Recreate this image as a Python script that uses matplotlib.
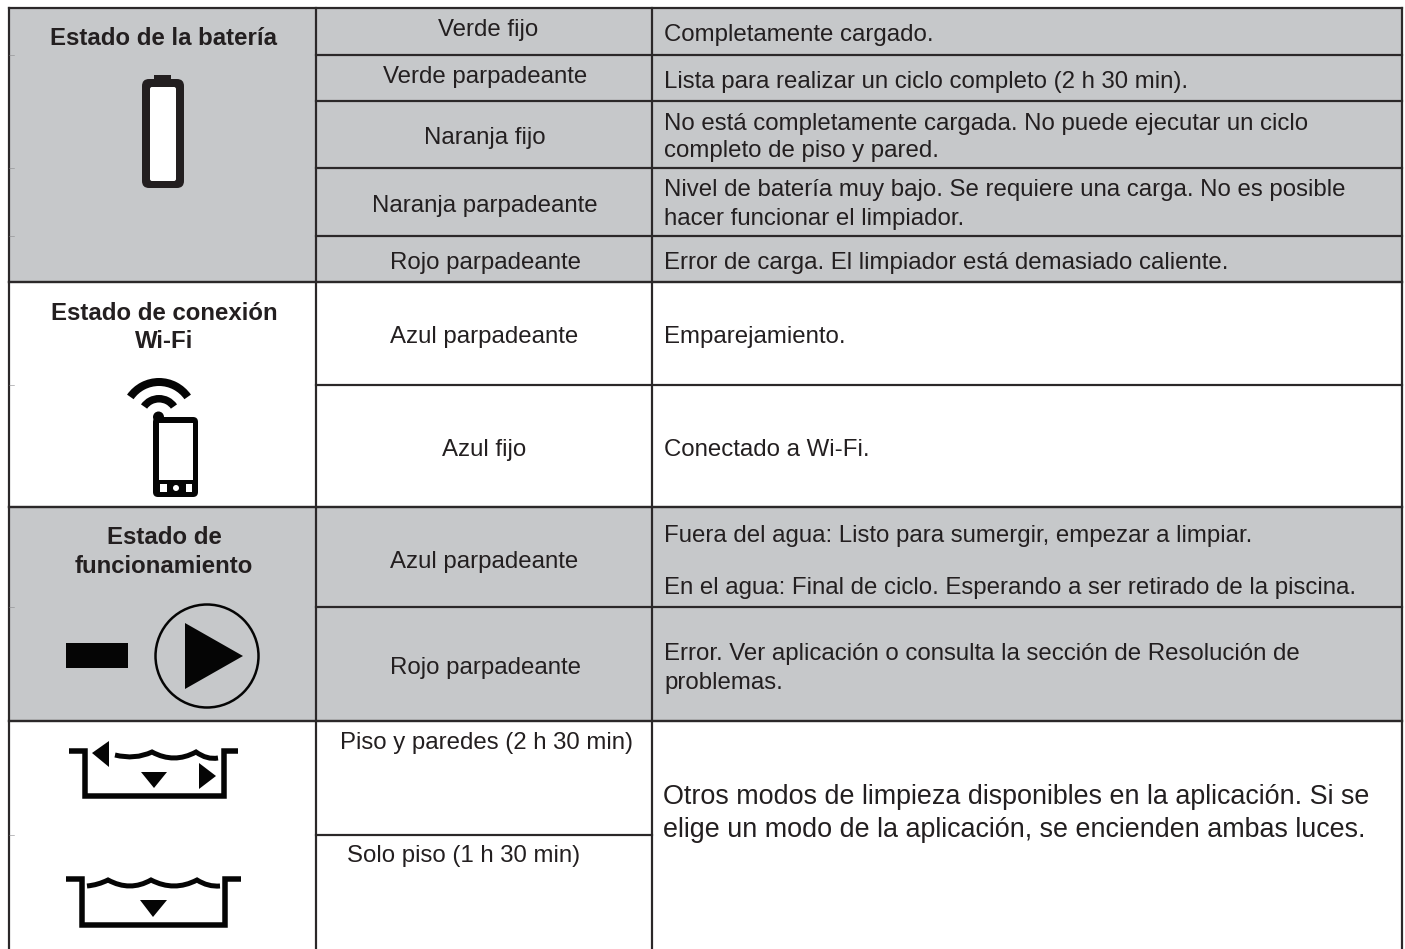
import matplotlib
matplotlib.use("Agg")
import matplotlib.pyplot as plt
from matplotlib.patches import Rectangle, FancyBboxPatch, Wedge, Circle, Polygon, PathPatch
from matplotlib.path import Path

plt.rcParams['font.family'] = ['Liberation Sans', 'DejaVu Sans']

# textos da tabela
cabecalhos = ["Estado de la batería", "Estado de conexión\nWi-Fi", "Estado de\nfuncionamiento"]
estados = ["Verde fijo", "Verde parpadeante", "Naranja fijo", "Naranja parpadeante", "Rojo parpadeante",
           "Azul parpadeante", "Azul fijo", "Azul parpadeante", "Rojo parpadeante"]
modos = ["Piso y paredes (2 h 30 min)", "Solo piso (1 h 30 min)"]
descricoes = ["Completamente cargado.",
              "Lista para realizar un ciclo completo (2 h 30 min).",
              "No está completamente cargada. No puede ejecutar un ciclo",
              "completo de piso y pared.",
              "Nivel de batería muy bajo. Se requiere una carga. No es posible",
              "hacer funcionar el limpiador.",
              "Error de carga. El limpiador está demasiado caliente.",
              "Emparejamiento.",
              "Conectado a Wi-Fi.",
              "Fuera del agua: Listo para sumergir, empezar a limpiar.",
              "En el agua: Final de ciclo. Esperando a ser retirado de la piscina.",
              "Error. Ver aplicación o consulta la sección de Resolución de",
              "problemas."]
nota = ["Otros modos de limpieza disponibles en la aplicación. Si se",
        "elige un modo de la aplicación, se encienden ambas luces."]

# posições em pixels da imagem
x_col = [9, 316, 652, 1402]
y_lin = [8, 55, 101, 168, 236, 282, 385, 507, 607, 721, 835, 949]
x_estados = [488, 485, 485, 485, 485, 484, 484, 484, 485]
y_estados = [36, 83, 144, 212, 269, 343, 456, 568, 674]
y_modos = [749, 862]
x_modos = [340, 347]
y_desc = [41, 88, 130, 157, 196, 225, 269, 343, 456, 542, 594, 660, 689]
y_nota = [804, 837]
y_cab = [45, 320, 348, 544, 573]

CINZA = "#C6C8CA"
LINHA = "#2B2829"
TEXTO = "#231F20"
PRETO = "#050505"
FS = 17.25

W, H = 1405, 949
fig = plt.figure(figsize=(W / 100, H / 100), dpi=100)
ax = fig.add_axes([0, 0, 1, 1])
ax.set_xlim(0, W)
ax.set_ylim(H, 0)
ax.axis("off")


def px(v):
    return v * 0.72


# faixas cinzas
for y0, y1 in [(y_lin[0], y_lin[5]), (y_lin[7], y_lin[9])]:
    ax.add_patch(Rectangle((x_col[0], y0), x_col[3] - x_col[0], y1 - y0, fc=CINZA, ec="none", zorder=0))

# grade
ax.plot([x_col[0], x_col[3]], [y_lin[0]] * 2, color=LINHA, lw=px(2.2), solid_capstyle="projecting")
for y in [y_lin[5], y_lin[7], y_lin[9]]:
    ax.plot([x_col[0], x_col[3]], [y, y], color=LINHA, lw=px(2.4), solid_capstyle="projecting")
for y in y_lin[1:5] + [y_lin[6], y_lin[8]]:
    ax.plot([x_col[1], x_col[3]], [y, y], color=LINHA, lw=px(2.2))
ax.plot([x_col[1], x_col[2]], [y_lin[10]] * 2, color=LINHA, lw=px(2.2))
for x in x_col:
    ax.plot([x, x], [y_lin[0], H], color=LINHA, lw=px(2.2))
# restos finos das linhas na borda esquerda
for y in [y_lin[1], y_lin[3], y_lin[4], y_lin[6], y_lin[8], y_lin[10]]:
    ax.plot([x_col[0], x_col[0] + 5], [y, y], color="#8A8A8C", lw=0.4)

# textos
for txt, y in zip(cabecalhos[0].split("\n") + cabecalhos[1].split("\n") + cabecalhos[2].split("\n"), y_cab):
    ax.text(164, y, txt, ha="center", va="baseline", fontsize=FS, fontweight="bold", color=TEXTO)
for txt, x, y in zip(estados, x_estados, y_estados):
    ax.text(x, y, txt, ha="center", va="baseline", fontsize=FS, color=TEXTO)
for txt, x, y in zip(modos, x_modos, y_modos):
    ax.text(x, y, txt, ha="left", va="baseline", fontsize=FS, color=TEXTO)
for txt, y in zip(descricoes, y_desc):
    ax.text(664, y, txt, ha="left", va="baseline", fontsize=FS, color=TEXTO)
for txt, y in zip(nota, y_nota):
    ax.text(663, y, txt, ha="left", va="baseline", fontsize=19.4, color=TEXTO)

# bateria
ax.add_patch(Rectangle((154, 75), 17, 8, fc="#231F20", ec="none"))
ax.add_patch(FancyBboxPatch((142, 79), 42, 109, boxstyle="round,pad=0,rounding_size=7",
                            fc="#231F20", ec="none"))
ax.add_patch(FancyBboxPatch((150, 87), 26, 94, boxstyle="round,pad=0,rounding_size=2",
                            fc="white", ec="none"))

# wi-fi e telefone
ax.add_patch(Wedge((159, 417), 39, 215, 325, width=8, fc=PRETO, ec="none"))
ax.add_patch(Wedge((159, 417), 22, 215, 325, width=7.5, fc=PRETO, ec="none"))
ax.add_patch(FancyBboxPatch((153, 417), 45, 80, boxstyle="round,pad=0,rounding_size=5",
                            fc=PRETO, ec="none"))
ax.add_patch(Circle((158.5, 417), 5.5, fc=PRETO, ec="none"))
ax.add_patch(Rectangle((159, 423), 34, 57, fc="white", ec="none"))
ax.add_patch(Rectangle((160, 484), 7, 8, fc="white", ec="none"))
ax.add_patch(Rectangle((186, 484), 6, 8, fc="white", ec="none"))
ax.add_patch(Circle((176, 488), 3, fc="white", ec="none"))

# play
ax.add_patch(Rectangle((66, 643), 62, 25, fc=PRETO, ec="none"))
ax.add_patch(Circle((207, 656), 51.5, fc="none", ec=PRETO, lw=px(2.5)))
ax.add_patch(Polygon([(185, 623), (185, 689), (243, 656)], fc=PRETO, ec="none"))


def onda(pontos):
    cods = [Path.MOVETO]
    vert = [pontos[0]]
    for ctrl, fim in zip(pontos[1::2], pontos[2::2]):
        vert += [ctrl, fim]
        cods += [Path.CURVE3, Path.CURVE3]
    ax.add_patch(PathPatch(Path(vert, cods), fc="none", ec=PRETO, lw=px(5), capstyle="butt"))


def piscina(xs, xe, xf0, xf1, yt, yb):
    ax.plot([xf0, xs, xs, xe, xe, xf1], [yt, yt, yb, yb, yt, yt], color=PRETO, lw=px(5.5),
            solid_joinstyle="miter", solid_capstyle="butt")


# piso y paredes
piscina(84.5, 223.5, 69, 238, 750.5, 796)
onda([(115, 755), (135, 760), (152, 752), (174, 764), (196, 752), (207, 760), (218, 758)])
ax.add_patch(Polygon([(92, 753), (109, 741), (109, 767)], fc=PRETO, ec="none"))
ax.add_patch(Polygon([(141, 772), (167, 772), (154, 788)], fc=PRETO, ec="none"))
ax.add_patch(Polygon([(199, 763), (199, 789), (216, 776)], fc=PRETO, ec="none"))

# solo piso
piscina(82, 225, 66, 241, 879, 925)
onda([(87, 886), (98, 885), (108, 880), (130, 892), (151, 880), (174, 892), (197, 880), (208, 887), (220, 886)])
ax.add_patch(Polygon([(140, 900), (167, 900), (153, 917)], fc=PRETO, ec="none"))

fig.savefig("out.png", dpi=100, facecolor="white")
